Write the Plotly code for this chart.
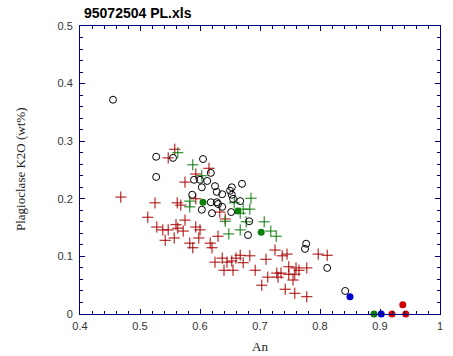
import plotly.graph_objects as go

# Open black circles
circ_x = [0.455, 0.527, 0.527, 0.555, 0.605, 0.618, 0.590, 0.600, 0.612, 0.625, 0.603, 0.653, 0.650,
          0.670, 0.628, 0.637, 0.587, 0.653, 0.655, 0.618, 0.628, 0.630, 0.667, 0.637, 0.603, 0.620,
          0.652, 0.682, 0.680, 0.777, 0.775, 0.812, 0.842]
circ_y = [0.372, 0.273, 0.238, 0.271, 0.269, 0.245, 0.233, 0.233, 0.231, 0.222, 0.220, 0.220, 0.214,
          0.226, 0.212, 0.208, 0.207, 0.207, 0.200, 0.194, 0.194, 0.191, 0.196, 0.186, 0.181, 0.175,
          0.177, 0.161, 0.137, 0.122, 0.113, 0.080, 0.040]

# Red crosses
red_x = [0.468, 0.547, 0.558, 0.615, 0.593, 0.575, 0.593, 0.562, 0.568, 0.525, 0.513, 0.528, 0.538,
         0.547, 0.560, 0.563, 0.572, 0.557, 0.593, 0.600, 0.598, 0.633, 0.642, 0.575, 0.630, 0.725,
         0.797, 0.812, 0.683, 0.737, 0.745, 0.667, 0.672, 0.710, 0.748, 0.760, 0.765, 0.778, 0.692,
         0.728, 0.735, 0.748, 0.758, 0.730, 0.713, 0.755, 0.703, 0.742, 0.758, 0.778,
         0.542, 0.583, 0.588, 0.617, 0.620, 0.625, 0.637, 0.645, 0.653, 0.655, 0.640, 0.660]
red_y = [0.203, 0.271, 0.286, 0.253, 0.243, 0.229, 0.200, 0.193, 0.189, 0.193, 0.168, 0.151, 0.146,
         0.146, 0.155, 0.149, 0.144, 0.132, 0.151, 0.146, 0.132, 0.177, 0.165, 0.163, 0.135, 0.111,
         0.104, 0.102, 0.101, 0.101, 0.104, 0.102, 0.089, 0.095, 0.082, 0.080, 0.076, 0.080, 0.076,
         0.071, 0.071, 0.069, 0.069, 0.064, 0.064, 0.059, 0.050, 0.043, 0.036, 0.030,
         0.128, 0.123, 0.115, 0.123, 0.115, 0.090, 0.097, 0.090, 0.092, 0.076, 0.076, 0.097]

# Green crosses
grn_x = [0.563, 0.588, 0.603, 0.685, 0.583, 0.583, 0.657, 0.672, 0.683, 0.667, 0.642, 0.677, 0.667,
         0.648, 0.707, 0.718, 0.727]
grn_y = [0.280, 0.259, 0.240, 0.201, 0.196, 0.186, 0.193, 0.182, 0.182, 0.175, 0.161, 0.160, 0.146,
         0.139, 0.160, 0.144, 0.135]

# Filled circles
gdot_x = [0.605, 0.663, 0.702, 0.890]
gdot_y = [0.194, 0.179, 0.142, 0.000]
bdot_x = [0.850, 0.902]
bdot_y = [0.030, 0.000]
rdot_x = [0.920, 0.938, 0.943]
rdot_y = [0.000, 0.016, 0.000]

x_ticks = [0.4, 0.5, 0.6, 0.7, 0.8, 0.9, 1.0]
x_labels = ["0.4", "0.5", "0.6", "0.7", "0.8", "0.9", "1"]
y_ticks = [0, 0.1, 0.2, 0.3, 0.4, 0.5]
y_labels = ["0", "0.1", "0.2", "0.3", "0.4", "0.5"]

fig = go.Figure()
fig.add_trace(go.Scatter(x=red_x, y=red_y, mode="markers",
                         marker=dict(symbol="cross-thin", size=8, line=dict(color="#a80000", width=1)),
                         cliponaxis=False))
fig.add_trace(go.Scatter(x=grn_x, y=grn_y, mode="markers",
                         marker=dict(symbol="cross-thin", size=8, line=dict(color="#0a7a0a", width=1)),
                         cliponaxis=False))
fig.add_trace(go.Scatter(x=circ_x, y=circ_y, mode="markers",
                         marker=dict(symbol="circle-open", size=7, color="black", line=dict(width=1)),
                         cliponaxis=False))
fig.add_trace(go.Scatter(x=gdot_x, y=gdot_y, mode="markers",
                         marker=dict(symbol="circle", size=7, color="#0a800a"), cliponaxis=False))
fig.add_trace(go.Scatter(x=bdot_x, y=bdot_y, mode="markers",
                         marker=dict(symbol="circle", size=7, color="#0000d0"), cliponaxis=False))
fig.add_trace(go.Scatter(x=rdot_x, y=rdot_y, mode="markers",
                         marker=dict(symbol="circle", size=7, color="#d00000"), cliponaxis=False))

axis_common = dict(showgrid=False, zeroline=False, showline=True, linecolor="#000080", linewidth=1,
                   mirror="allticks", ticks="inside", ticklen=5, tickcolor="#000080", automargin=False,
                   tickfont=dict(family="Liberation Sans, Arial", size=11, color="#333333"),
                   minor=dict(ticks="inside", ticklen=3, tickcolor="#000080", dtick=0.02, showgrid=False))

fig.update_xaxes(range=[0.4, 1.0], tickvals=x_ticks, ticktext=x_labels, ticklabelstandoff=2, **axis_common)
fig.update_yaxes(range=[0, 0.5], tickvals=y_ticks, ticktext=y_labels, ticklabelstandoff=4, **axis_common)

fig.update_layout(
    width=453, height=356,
    margin=dict(l=80, r=13, t=26, b=42),
    paper_bgcolor="white", plot_bgcolor="white",
    showlegend=False,
    title=dict(text="<b>95072504 PL.xls</b>", x=84/453, xanchor="left", y=1 - 13/356, yanchor="middle",
               font=dict(family="Liberation Sans, Arial", size=14, color="black")),
    annotations=[
        dict(text="An", xref="paper", yref="paper", x=0.5, y=-32/288, xanchor="center", yanchor="middle",
             showarrow=False, font=dict(family="Liberation Serif, Times New Roman", size=13, color="#222222")),
        dict(text="Plagioclase K2O (wt%)", xref="paper", yref="paper", x=-60/360, y=0.5, textangle=-90,
             xanchor="center", yanchor="middle", showarrow=False,
             font=dict(family="Liberation Serif, Times New Roman", size=13, color="#222222")),
    ],
)

fig.write_html("out.html", config={"displayModeBar": False},
               post_script="document.body.style.margin='0';document.body.style.overflow='hidden';")
